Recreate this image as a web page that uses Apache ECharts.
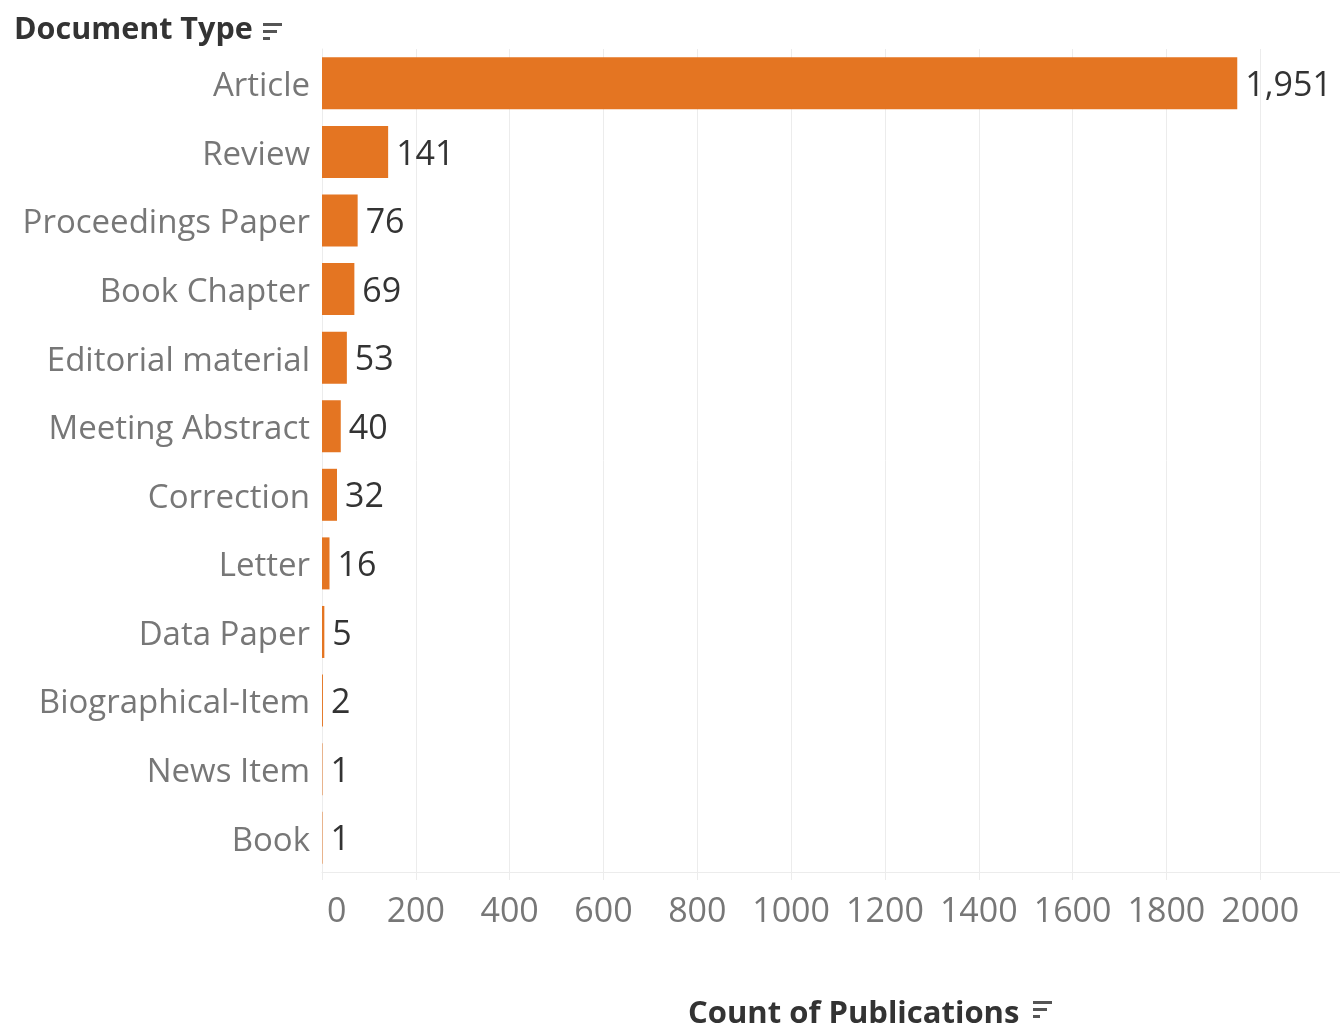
<!DOCTYPE html>
<html>
<head>
<meta charset="utf-8">
<script src="https://cdn.jsdelivr.net/npm/echarts@6/dist/echarts.min.js"></script>
<style>
  html, body { margin: 0; padding: 0; background: #fff; }
  #chart { width: 1340px; height: 1028px; }
</style>
</head>
<body>
<div id="chart"></div>
<script>
// Publication counts by document type
const categories = ['Article', 'Review', 'Proceedings Paper', 'Book Chapter', 'Editorial material',
  'Meeting Abstract', 'Correction', 'Letter', 'Data Paper', 'Biographical-Item', 'News Item', 'Book'];
const counts = [1951, 141, 76, 69, 53, 40, 32, 16, 5, 2, 1, 1];

const FONT = '"Open Sans", sans-serif';
const ORANGE = '#e47522';
const GRID_GRAY = '#ececec';

// small "sorted" glyph: three stacked bars of decreasing length
function sortIcon(x, y) {
  return [
    { type: 'rect', shape: { x: x, y: y, width: 19, height: 3 }, style: { fill: '#555' } },
    { type: 'rect', shape: { x: x, y: y + 7, width: 14, height: 3 }, style: { fill: '#555' } },
    { type: 'rect', shape: { x: x, y: y + 14, width: 7, height: 3 }, style: { fill: '#555' } }
  ];
}

const chart = echarts.init(document.getElementById('chart'), null, { renderer: 'canvas' });
chart.setOption({
  animation: false,
  backgroundColor: '#fff',
  grid: { left: 322, right: 0, top: 49, bottom: 156, containLabel: false },
  xAxis: {
    type: 'value',
    min: 0,
    max: 2170,
    interval: 200,
    axisLine: { show: true, lineStyle: { color: GRID_GRAY, width: 1 } },
    axisTick: { show: true, length: 8, lineStyle: { color: GRID_GRAY } },
    splitLine: { show: true, showMaxLine: false, lineStyle: { color: GRID_GRAY, width: 1 } },
    axisLabel: {
      show: true,
      showMaxLabel: false,
      alignMinLabel: 'left',
      margin: 23,
      color: '#777',
      fontFamily: FONT,
      fontSize: 34,
      rich: {
        zero: { color: '#777', fontFamily: FONT, fontSize: 34, padding: [0, 0, 0, 5] }
      },
      formatter: function (v) { return v > 2000 ? '' : (v === 0 ? '{zero|0}' : String(v)); }
    }
  },
  yAxis: {
    type: 'category',
    data: categories,
    inverse: true,
    axisLine: { show: true, lineStyle: { color: GRID_GRAY, width: 1 } },
    axisTick: { show: false },
    splitLine: { show: false },
    axisLabel: {
      margin: 12,
      color: '#777',
      fontFamily: FONT,
      fontSize: 33,
      rich: {
        cat: { color: '#777', fontFamily: FONT, fontSize: 33, padding: [7, 0, 0, 0] }
      },
      formatter: function (v) { return '{cat|' + v + '}'; }
    }
  },
  series: [{
    type: 'bar',
    data: counts,
    barWidth: 52,
    itemStyle: { color: ORANGE },
    label: {
      show: true,
      position: 'right',
      distance: 8,
      offset: [0, 3],
      color: '#333',
      fontFamily: FONT,
      fontSize: 34,
      formatter: function (p) { return p.value.toLocaleString('en-US'); }
    }
  }],
  graphic: [
    {
      type: 'text', left: 14, top: 15,
      style: { text: 'Document Type', fontFamily: FONT, fontSize: 30.5, fontWeight: 'bold', fill: '#333' }
    },
    ...sortIcon(263, 23),
    {
      type: 'text', left: 688, top: 999,
      style: { text: 'Count of Publications', fontFamily: FONT, fontSize: 31, fontWeight: 'bold', fill: '#333' }
    },
    ...sortIcon(1033, 1001)
  ]
});
</script>
</body>
</html>
